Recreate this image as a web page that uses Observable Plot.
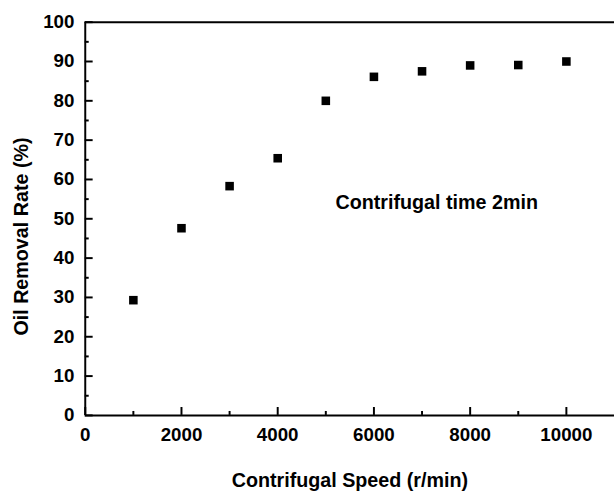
<!DOCTYPE html>
<html>
<head>
<meta charset="utf-8">
<script src="https://cdn.jsdelivr.net/npm/d3@7"></script>
<script src="https://cdn.jsdelivr.net/npm/@observablehq/plot@0.6"></script>
<style>
  html, body { margin: 0; padding: 0; background: #fff; overflow: hidden; }
  #chart { width: 614px; height: 498px; overflow: hidden; }
  svg { font-family: "Liberation Sans", Arial, sans-serif; }
  g[aria-label="y title"] text { letter-spacing: 2.5px; }
  g[aria-label="x title"] text { letter-spacing: 0.85px; }
  g[aria-label="annotation"] text { letter-spacing: 0.85px; }
</style>
</head>
<body>
<div id="chart"></div>
<script>
const speeds = [1000, 2000, 3000, 4000, 5000, 6000, 7000, 8000, 9000, 10000];
const removalRates = [29.3, 47.6, 58.3, 65.4, 80.0, 86.1, 87.5, 89.0, 89.1, 90.0];
const xMajorTicks = [0, 2000, 4000, 6000, 8000, 10000];
const xMinorTicks = [1000, 3000, 5000, 7000, 9000];
const yMajorTicks = [0, 10, 20, 30, 40, 50, 60, 70, 80, 90, 100];
const yMinorTicks = [5, 15, 25, 35, 45, 55, 65, 75, 85, 95];
const xTitle = ["Contrifugal Speed (r/min)"];
const yTitle = ["Oil Removal Rate (%)"];
const annotation = [{x: 5200, y: 54, text: "Contrifugal time 2min"}];

const points = speeds.map((s, i) => ({speed: s, rate: removalRates[i]}));

const W = 623, H = 498, ML = 86, MR = 0, MT = 22, MB = 77;
const innerW = W - ML - MR, innerH = H - MT - MB;

const plot = Plot.plot({
  width: W,
  height: H,
  marginLeft: ML,
  marginRight: MR,
  marginTop: MT,
  marginBottom: MB,
  style: {fontFamily: "'Liberation Sans', Arial, sans-serif", fontWeight: "bold", color: "#000", background: "#fff"},
  x: {domain: [0, 11000]},
  y: {domain: [0, 100]},
  marks: [
    Plot.axisX(xMajorTicks, {tickSize: 0, tickPadding: 12, fontSize: 19, fontWeight: "bold", tickFormat: d => String(d), label: null}),
    Plot.axisY(yMajorTicks, {tickSize: 0, tickPadding: 11, fontSize: 19, fontWeight: "bold", tickFormat: d => String(d), label: null}),
    Plot.tickX(xMajorTicks, {x: d => d, insetTop: innerH - 8, stroke: "#000", strokeWidth: 2}),
    Plot.tickX(xMinorTicks, {x: d => d, insetTop: innerH - 4, stroke: "#000", strokeWidth: 2}),
    Plot.tickY(yMajorTicks, {y: d => d, insetRight: innerW - 8, stroke: "#000", strokeWidth: 2}),
    Plot.tickY(yMinorTicks, {y: d => d, insetRight: innerW - 4, stroke: "#000", strokeWidth: 2}),
    Plot.ruleX([0], {stroke: "#000", strokeWidth: 2}),
    Plot.ruleY([0], {stroke: "#000", strokeWidth: 2}),
    Plot.ruleY([100], {stroke: "#000", strokeWidth: 2}),
    Plot.dot(points, {x: "speed", y: "rate", symbol: "square", r: 4.9, fill: "#000", stroke: "none"}),
    Plot.text(annotation, {x: "x", y: "y", text: "text", textAnchor: "start", lineAnchor: "middle", fontSize: 20, fontWeight: "bold", fill: "#000", ariaLabel: "annotation"}),
    Plot.text(xTitle, {text: d => d, frameAnchor: "bottom", textAnchor: "middle", dy: 66, lineAnchor: "middle", fontSize: 20, fontWeight: "bold", fill: "#000", ariaLabel: "x title"}),
    Plot.text(yTitle, {text: d => d, frameAnchor: "left", textAnchor: "middle", rotate: -90, dx: -64, dy: 18, lineAnchor: "middle", fontSize: 20, fontWeight: "bold", fill: "#000", ariaLabel: "y title"})
  ]
});
document.getElementById("chart").appendChild(plot);
</script>
</body>
</html>
